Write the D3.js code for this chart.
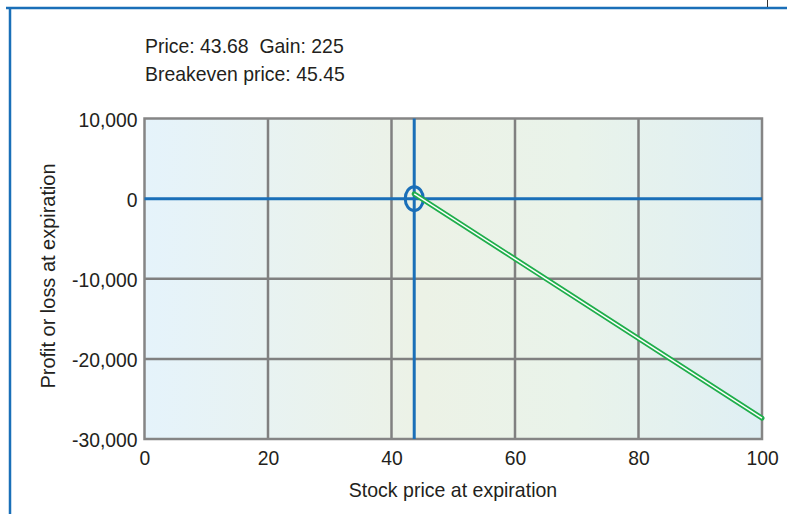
<!DOCTYPE html>
<html><head><meta charset="utf-8">
<script src="https://cdn.jsdelivr.net/npm/d3@7"></script>
<style>
body{margin:0;background:#fff;}
svg{display:block;}
text{font-family:"Liberation Sans",Arial,sans-serif;fill:#231f20;white-space:pre;}
</style></head>
<body><svg id="c" width="787" height="514"></svg>
<script>
const xTicks = [0, 20, 40, 60, 80, 100];
const yTicks = [10000, 0, -10000, -20000, -30000];
const payoffPrice = [43.68, 100];
const payoffProfit = [600, -27400];
const currentPrice = 43.68;
const gain = 225;
const breakeven = 45.45;
const infoLines = ["Price: 43.68  Gain: 225", "Breakeven price: 45.45"];

const FS = 21;
const svg = d3.select("#c");
const x = d3.scaleLinear().domain([0, 100]).range([144.5, 762]);
const y = d3.scaleLinear().domain([-30000, 10000]).range([439, 118.5]);

function condense(f) {
  return sel => sel.each(function () {
    const L = this.getComputedTextLength();
    d3.select(this).attr("textLength", L * f).attr("lengthAdjust", "spacingAndGlyphs");
  });
}

// frame
svg.append("line").attr("x1", 6).attr("x2", 787).attr("y1", 8).attr("y2", 8).attr("stroke", "#1a6fb8").attr("stroke-width", 2.5);
svg.append("line").attr("x1", 10).attr("x2", 10).attr("y1", 7).attr("y2", 514).attr("stroke", "#1a6fb8").attr("stroke-width", 2.5);
svg.append("line").attr("x1", 767.5).attr("x2", 767.5).attr("y1", 0).attr("y2", 7).attr("stroke", "#333").attr("stroke-width", 1);

// background gradient
const defs = svg.append("defs");
const g = defs.append("linearGradient").attr("id", "bg").attr("x1", "0").attr("x2", "1").attr("y1", "0").attr("y2", "0");
g.append("stop").attr("offset", "0").attr("stop-color", "#e5f3fb");
g.append("stop").attr("offset", "0.45").attr("stop-color", "#ecf2e6");
g.append("stop").attr("offset", "0.7").attr("stop-color", "#e9f3ea");
g.append("stop").attr("offset", "1").attr("stop-color", "#dfeff4");
svg.append("rect").attr("x", x(0)).attr("y", y(10000)).attr("width", x(100) - x(0)).attr("height", y(-30000) - y(10000)).attr("fill", "url(#bg)");

// gridlines
const grid = svg.append("g").attr("stroke", "#808080").attr("stroke-width", 2.5);
grid.selectAll("line.v").data(xTicks.slice(1, -1)).join("line")
  .attr("x1", d => x(d)).attr("x2", d => x(d)).attr("y1", y(10000)).attr("y2", y(-30000));
grid.selectAll("line.h").data(yTicks.filter(d => d !== 0 && d !== 10000 && d !== -30000)).join("line")
  .attr("x1", x(0)).attr("x2", x(100)).attr("y1", d => y(d)).attr("y2", d => y(d));
svg.append("rect").attr("x", x(0)).attr("y", y(10000)).attr("width", x(100) - x(0)).attr("height", y(-30000) - y(10000))
  .attr("fill", "none").attr("stroke", "#858585").attr("stroke-width", 2.5);

// axes labels via d3 axes
const fmt = d => d3.format(",")(d).replace("\u2212", "-");
const yAxis = svg.append("g").attr("transform", `translate(${x(0) - 7},0)`)
  .call(d3.axisLeft(y).tickValues(yTicks).tickFormat(fmt).tickSize(0).tickPadding(0));
yAxis.attr("font-size", null).attr("font-family", null);
yAxis.select(".domain").remove();
yAxis.selectAll("text").attr("font-size", FS).attr("dy", "0.36em").attr("fill", "#231f20").call(condense(0.92));
const xAxis = svg.append("g").attr("transform", `translate(0,${y(-30000) + 11})`)
  .call(d3.axisBottom(x).tickValues(xTicks).tickSize(0).tickPadding(0));
xAxis.attr("font-size", null).attr("font-family", null);
xAxis.select(".domain").remove();
xAxis.selectAll("text").attr("font-size", FS).attr("dy", "0.72em").attr("fill", "#231f20").call(condense(0.92));

svg.append("text").attr("x", 453).attr("y", 497).attr("text-anchor", "middle").attr("font-size", FS).text("Stock price at expiration").call(condense(0.93));
svg.append("text").attr("transform", "translate(55,276) rotate(-90)").attr("text-anchor", "middle").attr("font-size", FS).text("Profit or loss at expiration").call(condense(0.95));

// info text
svg.selectAll("text.info").data(infoLines).join("text").attr("class", "info")
  .attr("x", 145).attr("y", (d, i) => 53 + i * 28).attr("font-size", FS).text(d => d).call(condense(0.925));

// blue reference lines
svg.append("line").attr("x1", x(0)).attr("x2", x(100)).attr("y1", y(0)).attr("y2", y(0)).attr("stroke", "#1a6fb8").attr("stroke-width", 3);
svg.append("line").attr("x1", x(currentPrice)).attr("x2", x(currentPrice)).attr("y1", y(10000)).attr("y2", y(-30000)).attr("stroke", "#1a6fb8").attr("stroke-width", 3);
svg.append("ellipse").attr("cx", x(currentPrice)).attr("cy", y(0)).attr("rx", 9).attr("ry", 12).attr("fill", "none").attr("stroke", "#1a6fb8").attr("stroke-width", 3);

// payoff line (double line)
const pts = payoffPrice.map((p, i) => [p, payoffProfit[i]]);
const line = d3.line().x(d => x(d[0])).y(d => y(d[1]));
svg.append("path").attr("d", line(pts)).attr("stroke", "#1fae4b").attr("stroke-width", 5).attr("fill", "none").attr("stroke-linecap", "round");
svg.append("path").attr("d", line(pts)).attr("stroke", "#ffffff").attr("stroke-width", 1.4).attr("fill", "none");
</script></body></html>
